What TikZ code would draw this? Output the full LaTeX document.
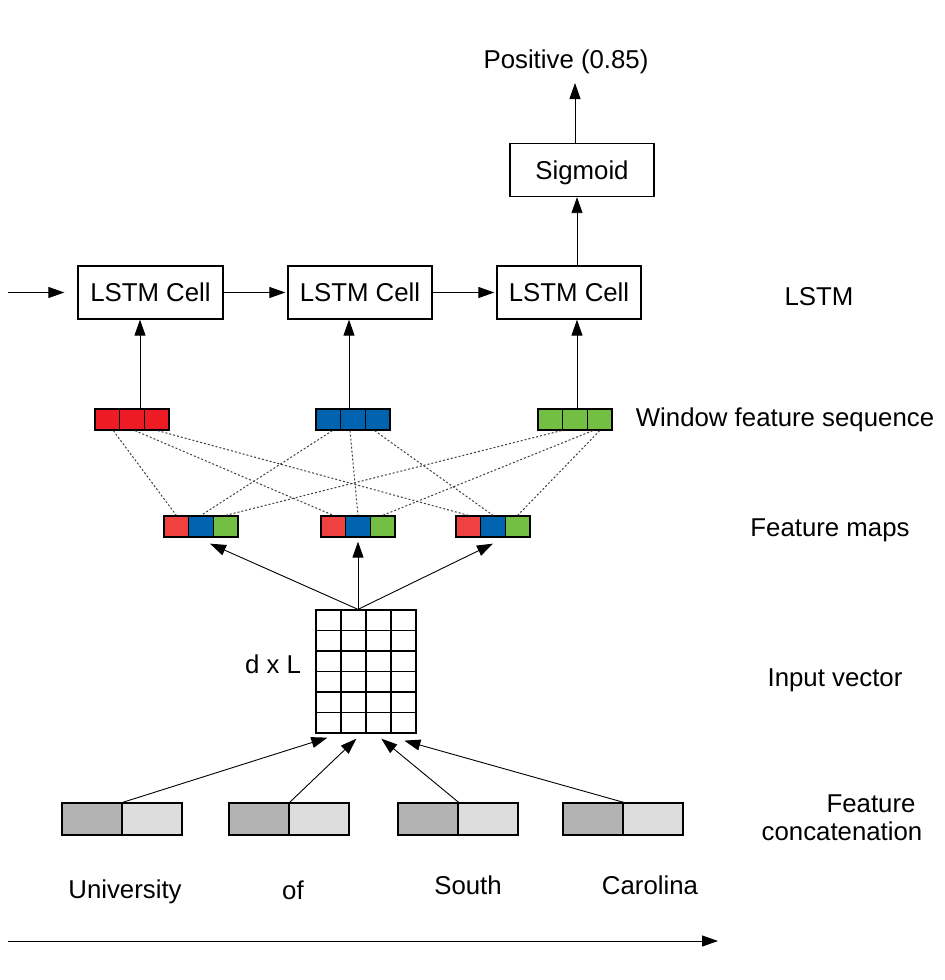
\documentclass[tikz,border=0pt]{standalone}
\usepackage{fontspec}
\setmainfont{Liberation Sans}
\usetikzlibrary{arrows.meta,calc}
\definecolor{wred}{HTML}{ED1C24}
\definecolor{wblue}{HTML}{0063AF}
\definecolor{wgreen}{HTML}{72BF44}
\definecolor{mred}{HTML}{EF4140}
\definecolor{cdark}{HTML}{B3B3B3}
\definecolor{clight}{HTML}{DDDDDD}
\begin{document}
\begin{tikzpicture}[x=1pt,y=-1pt,
  font=\fontsize{25.8}{31}\selectfont,
  box/.style={draw, line width=1.3pt, inner sep=0pt, text height=18.5pt, text depth=0pt, minimum height=53pt},
  cellbox/.style={draw, line width=1.3pt, inner sep=0pt, minimum width=24.67pt, minimum height=21pt},
  catbox/.style={draw, line width=1.3pt, inner sep=0pt, minimum width=60pt, minimum height=32pt},
  arr/.style={line width=0.9pt, -{Triangle[length=16pt,width=11pt]}},
  dotln/.style={line width=1pt, dash pattern=on 2pt off 2pt, black!75},
  lbl/.style={anchor=base, inner sep=0pt}]
\useasboundingbox (0,0) rectangle (945,980);

% top
\node[lbl] (pos) at (566,68) {Positive (0.85)};
\node[box, minimum width=144pt] (sig) at (582,170) {Sigmoid};
\node[box, minimum width=145pt] (l1) at (150.5,292.5) {LSTM Cell};
\node[box, minimum width=144pt] (l2) at (360,292.5) {LSTM Cell};
\node[box, minimum width=144pt] (l3) at (569,292.5) {LSTM Cell};
\node[lbl] (lstmlbl) at (819,305) {LSTM};

% window feature sequence
\foreach \k/\x/\c in {1/95/wred, 2/316/wblue, 3/538/wgreen}{
  \node[cellbox, fill=\c] (w\k a) at (\x+12.33,419.5) {};
  \node[cellbox, fill=\c] (w\k b) at (\x+37,419.5) {};
  \node[cellbox, fill=\c] (w\k c) at (\x+61.67,419.5) {};
}
\node[lbl] (wlbl) at (785,426) {Window feature sequence};

% feature maps
\foreach \k/\x in {1/164, 2/321, 3/456}{
  \node[cellbox, fill=mred] (m\k a) at (\x+12.33,526.5) {};
  \node[cellbox, fill=wblue] (m\k b) at (\x+37,526.5) {};
  \node[cellbox, fill=wgreen] (m\k c) at (\x+61.67,526.5) {};
}
\node[lbl] (mlbl) at (830,536) {Feature maps};

% grid
\node[draw, line width=1.3pt, inner sep=0pt, minimum width=100pt, minimum height=123pt] (grid) at (366,671.5) {};
\foreach \i in {1,2,3}{ \draw[line width=1.3pt] (316+25*\i,610) -- (316+25*\i,733); }
\foreach \j in {1,...,5}{ \draw[line width=1.3pt] (316,610+20.5*\j) -- (416,610+20.5*\j); }
\node[lbl] (dxl) at (273,673) {d x L};
\node[lbl] (ivlbl) at (835,686) {Input vector};

% feature concatenation
\foreach \k/\x in {1/62, 2/229, 3/398, 4/563}{
  \node[catbox, fill=cdark] (c\k a) at (\x+30,819) {};
  \node[catbox, fill=clight] (c\k b) at (\x+90,819) {};
}
\node[lbl] (fc1) at (871,812) {Feature};
\node[lbl] (fc2) at (842,840) {concatenation};

\node[lbl] (wd1) at (125,898) {University};
\node[lbl] (wd2) at (293,899) {of};
\node[lbl] (wd3) at (468,894) {South};
\node[lbl] (wd4) at (650,894) {Carolina};

% arrows top
\coordinate (ptip) at (575,83);
\draw[arr] (sig.north -| ptip) -- (ptip);
\draw[arr] ($(w3b.north)+(2,0)$) coordinate (a3) -- (l3.south -| a3);
\draw[arr] (l3.north -| a3) -- (sig.south -| a3);
\coordinate (in0) at (8,292.5);
\draw[arr, shorten >=13pt] (in0) -- (l1.west);
\draw[arr, shorten >=2pt] (l1.east) -- (l2.west);
\draw[arr, shorten >=2pt] (l2.east) -- (l3.west);
\draw[arr] ($(w1b.north)+(8,0)$) coordinate (a1) -- (l1.south -| a1);
\draw[arr] ($(w2b.north)+(-4,0)$) coordinate (a2) -- (l2.south -| a2);

% dotted connections
\draw[dotln] ($(w1a.south)+(6,0)$) -- (m1a.north);
\draw[dotln] ($(w1b.south)+(3,0)$) -- (m2a.north);
\draw[dotln] ($(w1c.south)+(1,0)$) -- (m3a.north);
\draw[dotln] ($(w2a.south)+(4,0)$) -- (m1b.north);
\draw[dotln] ($(w2b.south)+(-3,0)$) -- (m2b.north);
\draw[dotln] ($(w2c.south)+(-3,0)$) -- (m3b.north);
\draw[dotln] ($(w3a.south)+(11,0)$) -- (m1c.north);
\draw[dotln] ($(w3c.south)+(-7,0)$) -- (m2c.north);
\draw[dotln] (w3c.south) -- (m3c.north);

% grid to feature maps
\coordinate (gtop) at ($(grid.north)+(-8,0)$);
\draw[arr] (gtop) -- ($(m1b.south)+(9,6)$);
\draw[arr] (gtop) -- ($(m2b.south)+(0,4)$);
\draw[arr] (gtop) -- ($(m3b.south)+(0,6)$);

% concat to grid
\draw[arr] (c1a.north east) -- ($(grid.south west)+(12,4)$);
\draw[arr] (c2a.north east) -- ($(grid.south west)+(41,5)$);
\draw[arr] (c3a.north east) -- ($(grid.south west)+(66,5)$);
\draw[arr] (c4a.north east) -- ($(grid.south west)+(89,7)$);

% bottom arrow
\coordinate (b0) at (8,941);
\coordinate (b1) at (718,941);
\draw[arr] (b0) -- (b1);
\end{tikzpicture}
\end{document}
